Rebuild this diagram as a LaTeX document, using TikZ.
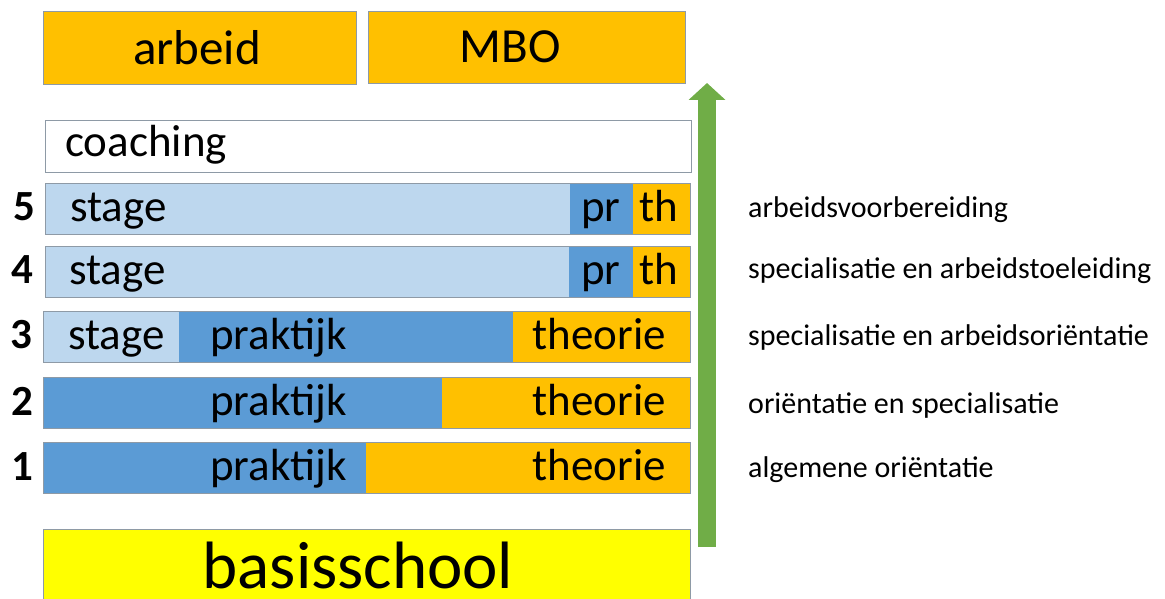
\documentclass[tikz,border=0pt]{standalone}
\usepackage{fontspec}
\setmainfont{Carlito}
\usepackage{tikz}
\usepackage{xcolor}
\usetikzlibrary{arrows.meta}

\definecolor{oranje}{HTML}{FFC000}
\definecolor{blauw}{HTML}{5B9BD5}
\definecolor{lichtblauw}{HTML}{BDD7EE}
\definecolor{geel}{HTML}{FFFF00}
\definecolor{groen}{HTML}{70AD47}
\definecolor{rand}{HTML}{8E9AA6}

\begin{document}
\begin{tikzpicture}[x=1pt,y=-1pt,
    vak/.style={draw=rand,line width=0.8pt},
    rijtekst/.style={anchor=base west,font=\fontsize{45}{45}\selectfont},
    kort/.style={anchor=base,font=\fontsize{45}{45}\selectfont},
    rechts/.style={anchor=base east,font=\fontsize{45}{45}\selectfont},
    nummer/.style={font=\bfseries\fontsize{43}{43}\selectfont},
    fase/.style={anchor=base west,font=\fontsize{30}{30}\selectfont} ]
    \tikzstyle{every node}+=[inner sep=0pt]
    \useasboundingbox (0,0) rectangle (1165,599);
    % bovenaan
    \draw [vak,fill=oranje] (43,11) rectangle (356,84);
    \node [font=\fontsize{49}{49}\selectfont] (arbeid) at (197,47.5) {arbeid};
    \draw [vak,fill=oranje] (368,11) rectangle (685,83);
    \node [font=\fontsize{49}{49}\selectfont] (mbo) at (510,47) {MBO};
    \draw [vak,fill=white] (45,120) rectangle (691,172);
    \node [rijtekst] (coaching) at (65,157) {coaching};
    % leerjaar 5
    \fill [lichtblauw] (45,183) rectangle (570,234);
    \fill [blauw] (570,183) rectangle (633,234);
    \fill [oranje] (633,183) rectangle (690,234);
    \draw [vak] (45,183) rectangle (690,234);
    \node [rijtekst] (stage5) at (70,221) {stage};
    \node [kort] (pr5) at (601,221) {pr};
    \node [kort] (th5) at (659,221) {th};
    \node [nummer] (n5) at (24,207) {5};
    % leerjaar 4
    \fill [lichtblauw] (45,246) rectangle (569,297);
    \fill [blauw] (569,246) rectangle (633,297);
    \fill [oranje] (633,246) rectangle (690,297);
    \draw [vak] (45,246) rectangle (690,297);
    \node [rijtekst] (stage4) at (69,284) {stage};
    \node [kort] (pr4) at (601,284) {pr};
    \node [kort] (th4) at (659,284) {th};
    \node [nummer] (n4) at (22,270) {4};
    % leerjaar 3
    \fill [lichtblauw] (43,311) rectangle (179,362);
    \fill [blauw] (179,311) rectangle (513,362);
    \fill [oranje] (513,311) rectangle (690,362);
    \draw [vak] (43,311) rectangle (690,362);
    \node [rijtekst] (stage3) at (68,349) {stage};
    \node [rijtekst] (prak3) at (210,349) {praktijk};
    \node [rechts] (theo3) at (666,349) {theorie};
    \node [nummer] (n3) at (21,335) {3};
    % leerjaar 2
    \fill [blauw] (43,377) rectangle (442,428);
    \fill [oranje] (442,377) rectangle (690,428);
    \draw [vak] (43,377) rectangle (690,428);
    \node [rijtekst] (prak2) at (210,415) {praktijk};
    \node [rechts] (theo2) at (666,415) {theorie};
    \node [nummer] (n2) at (22,401) {2};
    % leerjaar 1
    \fill [blauw] (43,442) rectangle (366,493);
    \fill [oranje] (366,442) rectangle (690,493);
    \draw [vak] (43,442) rectangle (690,493);
    \node [rijtekst] (prak1) at (210,480) {praktijk};
    \node [rechts] (theo1) at (666,480) {theorie};
    \node [nummer] (n1) at (22,467) {1};
    % onderaan
    \draw [vak,fill=geel] (43,529) rectangle (690,620);
    \node [anchor=base,font=\fontsize{67}{67}\selectfont] (basis) at (358,588) {basisschool};
    % pijl
    \coordinate (pijlvoet) at (707,547);
    \coordinate (pijlpunt) at (707,83);
    \draw [groen,line width=18pt,-{Triangle[width=36pt,length=17pt]}] (pijlvoet) -- (pijlpunt);
    % fasen
    \node [fase] (f5) at (748,218) {arbeidsvoorbereiding};
    \node [fase] (f4) at (748,278) {specialisatie en arbeidstoeleiding};
    \node [fase] (f3) at (748,345) {specialisatie en arbeidsoriëntatie};
    \node [fase] (f2) at (748,413) {oriëntatie en specialisatie};
    \node [fase] (f1) at (748,477) {algemene oriëntatie};
    \end{tikzpicture}
\end{document}
